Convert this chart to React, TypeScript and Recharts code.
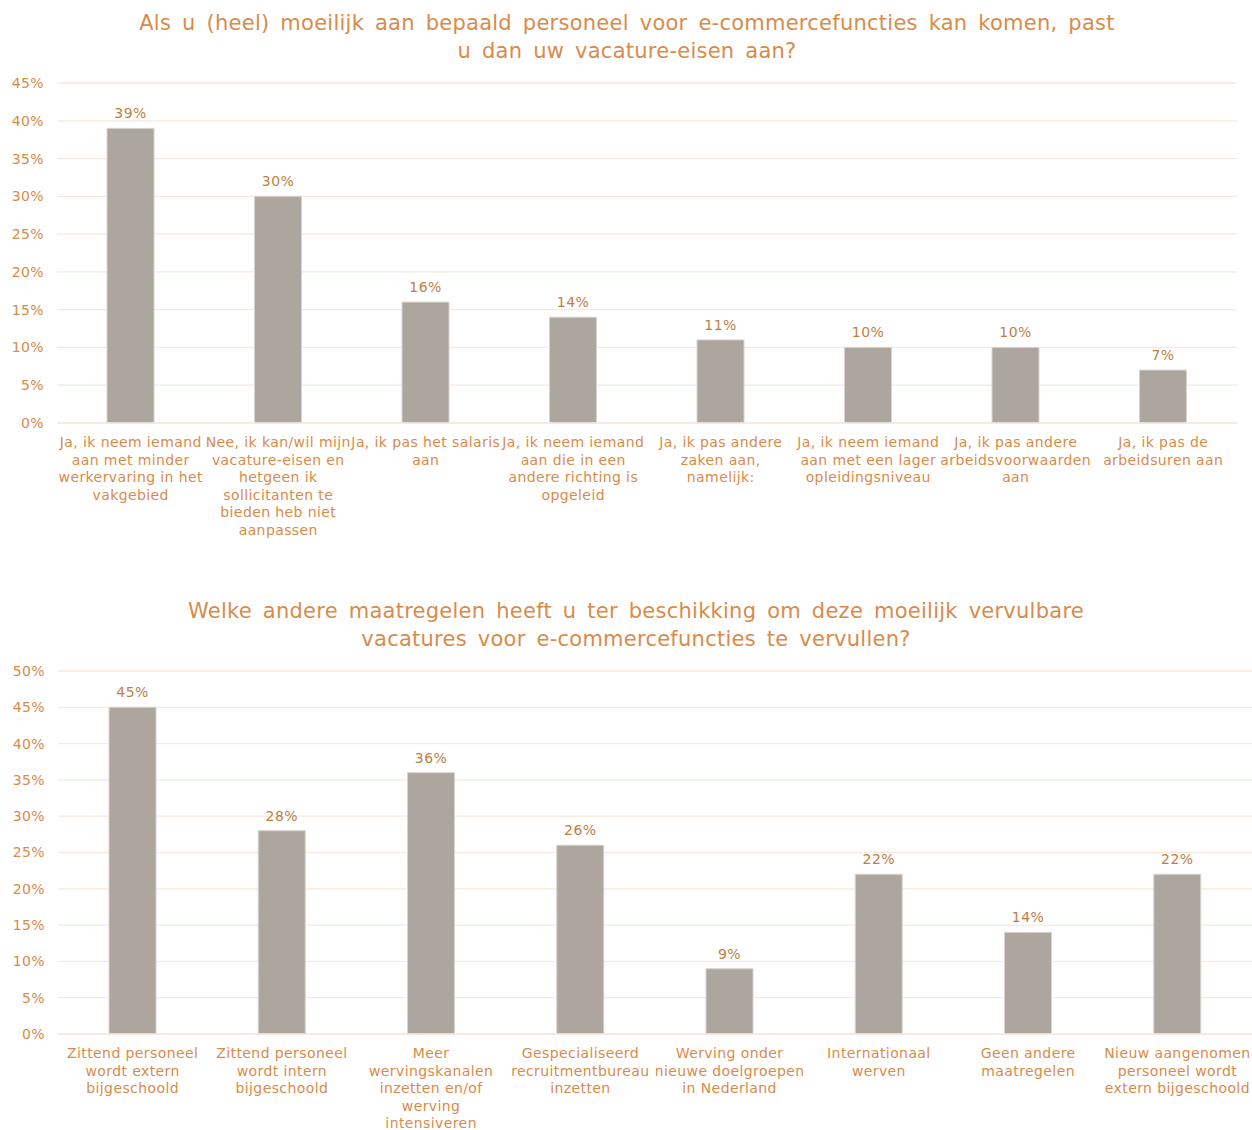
import { BarChart, Bar, XAxis, YAxis, CartesianGrid, LabelList } from "recharts";

// Chart 1: vacature-eisen aanpassen
const categoriesTop = [
  "Ja, ik neem iemand\naan met minder\nwerkervaring in het\nvakgebied",
  "Nee, ik kan/wil mijn\nvacature-eisen en\nhetgeen ik\nsollicitanten te\nbieden heb niet\naanpassen",
  "Ja, ik pas het salaris\naan",
  "Ja, ik neem iemand\naan die in een\nandere richting is\nopgeleid",
  "Ja, ik pas andere\nzaken aan,\nnamelijk:",
  "Ja, ik neem iemand\naan met een lager\nopleidingsniveau",
  "Ja, ik pas andere\narbeidsvoorwaarden\naan",
  "Ja, ik pas de\narbeidsuren aan",
];
const valuesTop = [39, 30, 16, 14, 11, 10, 10, 7];
const ticksTop = [0, 5, 10, 15, 20, 25, 30, 35, 40, 45];

// Chart 2: andere maatregelen
const categoriesBottom = [
  "Zittend personeel\nwordt extern\nbijgeschoold",
  "Zittend personeel\nwordt intern\nbijgeschoold",
  "Meer\nwervingskanalen\ninzetten en/of\nwerving\nintensiveren",
  "Gespecialiseerd\nrecruitmentbureau\ninzetten",
  "Werving onder\nnieuwe doelgroepen\nin Nederland",
  "Internationaal\nwerven",
  "Geen andere\nmaatregelen",
  "Nieuw aangenomen\npersoneel wordt\nextern bijgeschoold",
];
const valuesBottom = [45, 28, 36, 26, 9, 22, 14, 22];
const ticksBottom = [0, 5, 10, 15, 20, 25, 30, 35, 40, 45, 50];

const titleTop = [
  "Als u (heel) moeilijk aan bepaald personeel voor e-commercefuncties kan komen, past",
  "u dan uw vacature-eisen aan?",
];
const titleBottom = [
  "Welke andere maatregelen heeft u ter beschikking om deze moeilijk vervulbare",
  "vacatures voor e-commercefuncties te vervullen?",
];

const FONT = "'DejaVu Sans', Verdana, sans-serif";
const ORANGE = "#d98b4a";
const LABEL = "#c07e45";
const BAR = "#ada69e";
const GRID = "#f7e9de";

const MultiLineTick = (props: any) => {
  const { x, y, payload } = props;
  const lines = String(payload.value).split("\n");
  return (
    <text x={x} y={y} textAnchor="middle" fill={ORANGE} fontSize={14} fontFamily={FONT} letterSpacing={0.4}>
      {lines.map((line, i) => (
        <tspan key={i} x={x} dy={i === 0 ? 18 : 17.6}>
          {line}
        </tspan>
      ))}
    </text>
  );
};

function Title({ lines, top, center }: { lines: string[]; top: number; center: number }) {
  return (
    <div
      style={{
        position: "absolute",
        top,
        left: center - 600,
        width: 1200,
        textAlign: "center",
        fontFamily: FONT,
        fontSize: 21,
        lineHeight: "28px",
        color: ORANGE,
        wordSpacing: 4,
        letterSpacing: 0.25,
        whiteSpace: "nowrap",
      }}
    >
      {lines.map((l, i) => (
        <div key={i}>{l}</div>
      ))}
    </div>
  );
}

export default function App() {
  const dataTop = categoriesTop.map((c, i) => ({ name: c, value: valuesTop[i] }));
  const dataBottom = categoriesBottom.map((c, i) => ({ name: c, value: valuesBottom[i] }));

  const yTick = { fill: ORANGE, fontSize: 14, fontFamily: FONT, letterSpacing: 0.4 };
  const labelStyle = { fill: LABEL, fontSize: 14, fontFamily: FONT, letterSpacing: 0.4 };

  return (
    <div style={{ position: "absolute", left: 0, top: 0, width: 1252, height: 1130, background: "#fff", overflow: "hidden" }}>
      <Title lines={titleTop} top={9} center={627} />
      <div style={{ position: "absolute", left: 0, top: 0 }}>
        <BarChart width={1252} height={550} data={dataTop} margin={{ top: 83, right: 15, left: 0, bottom: 0 }}>
          <CartesianGrid vertical={false} stroke={GRID} strokeWidth={1.3} />
          <XAxis
            dataKey="name"
            interval={0}
            height={127}
            axisLine={{ stroke: GRID, strokeWidth: 1.3 }}
            tickLine={false}
            tick={<MultiLineTick />}
            tickMargin={0}
          />
          <YAxis
            domain={[0, 45]}
            ticks={ticksTop}
            width={57}
            axisLine={false}
            tickLine={false}
            tickMargin={7}
            tickFormatter={(v: number) => `${v}%`}
            tick={yTick}
          />
          <Bar dataKey="value" fill={BAR} stroke="#d8d3ce" strokeWidth={1} barSize={47} isAnimationActive={false}>
            <LabelList dataKey="value" position="top" offset={10} formatter={(v: any) => `${v}%`} style={labelStyle} />
          </Bar>
        </BarChart>
      </div>

      <Title lines={titleBottom} top={597} center={636} />
      <div style={{ position: "absolute", left: 0, top: 560 }}>
        <BarChart width={1252} height={570} data={dataBottom} margin={{ top: 111, right: 0, left: 0, bottom: 0 }}>
          <CartesianGrid vertical={false} stroke={GRID} strokeWidth={1.3} />
          <XAxis
            dataKey="name"
            interval={0}
            height={96}
            axisLine={{ stroke: GRID, strokeWidth: 1.3 }}
            tickLine={false}
            tick={<MultiLineTick />}
            tickMargin={0}
          />
          <YAxis
            domain={[0, 50]}
            ticks={ticksBottom}
            width={58}
            axisLine={false}
            tickLine={false}
            tickMargin={7}
            tickFormatter={(v: number) => `${v}%`}
            tick={yTick}
          />
          <Bar dataKey="value" fill={BAR} stroke="#d8d3ce" strokeWidth={1} barSize={47} isAnimationActive={false}>
            <LabelList dataKey="value" position="top" offset={10} formatter={(v: any) => `${v}%`} style={labelStyle} />
          </Bar>
        </BarChart>
      </div>
    </div>
  );
}
